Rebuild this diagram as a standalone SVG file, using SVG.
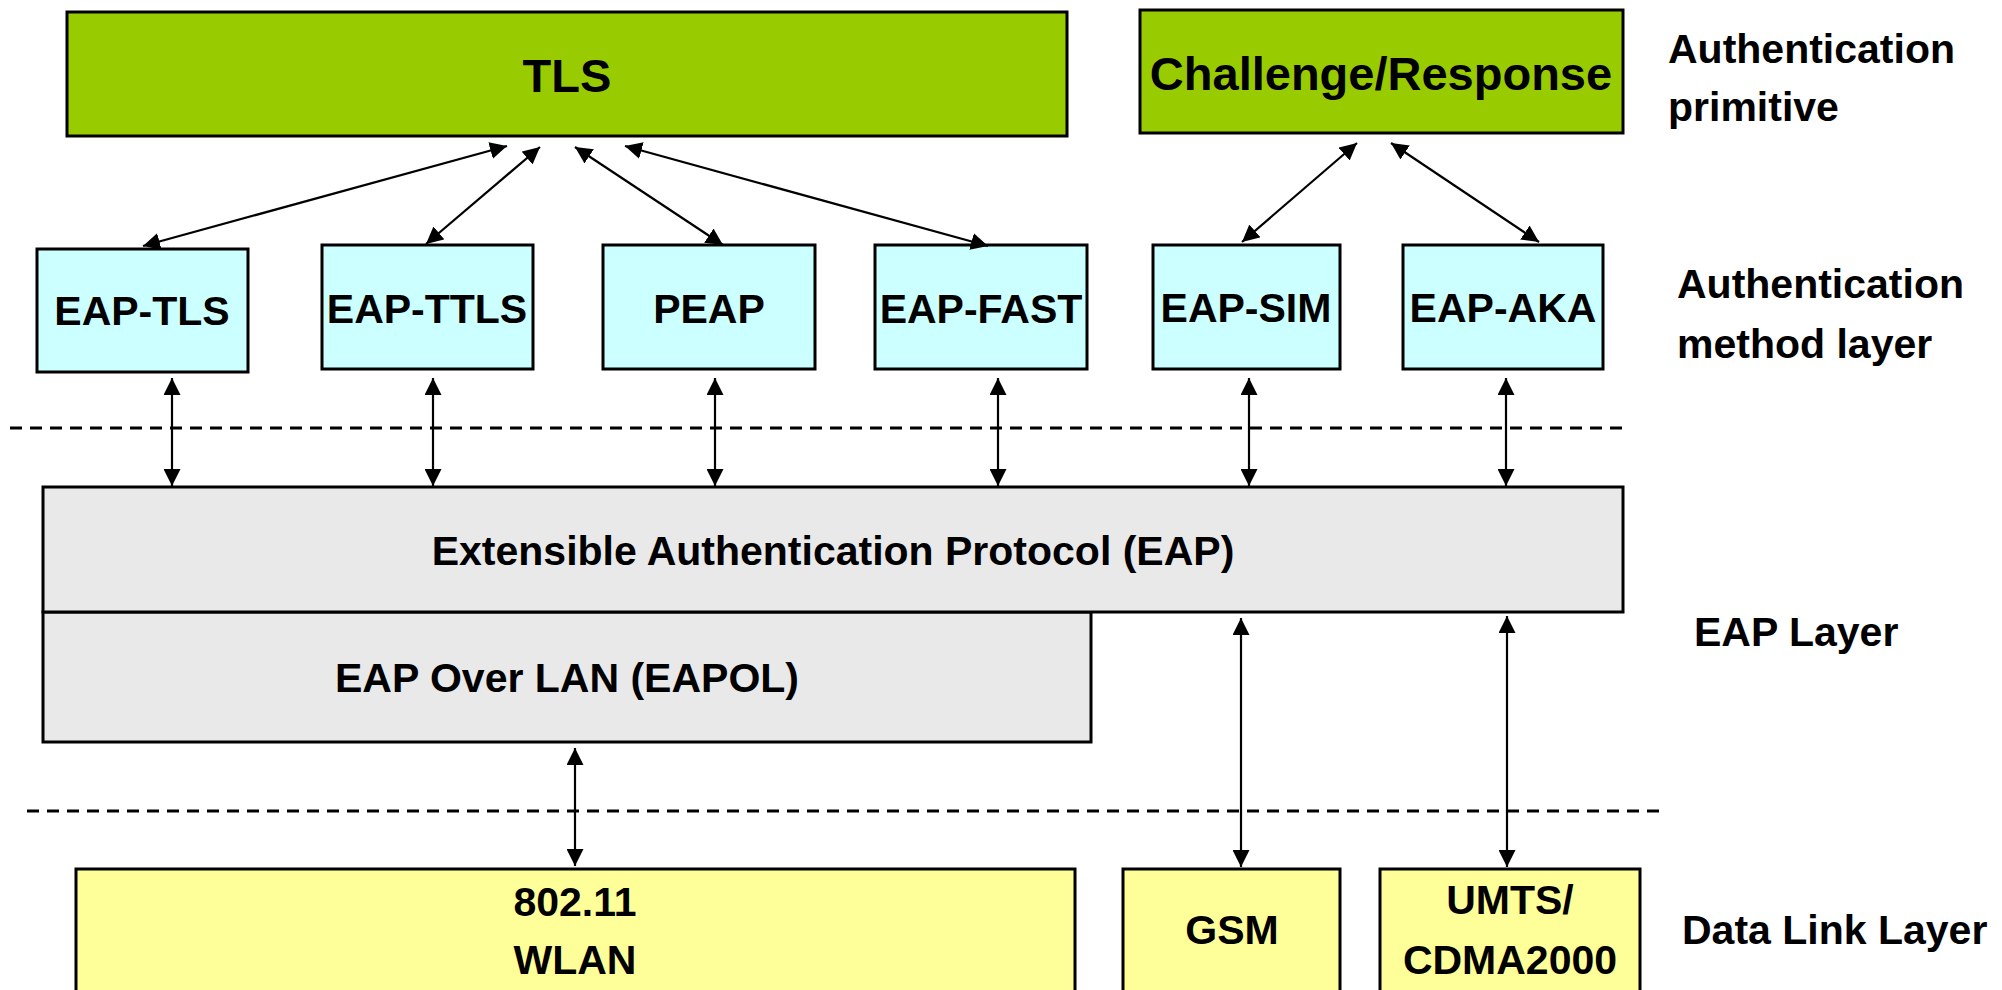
<svg xmlns="http://www.w3.org/2000/svg" width="2002" height="990" viewBox="0 0 2002 990">
  <defs>
    <marker id="arrow" viewBox="0 0 17 17" refX="17" refY="8.5" markerWidth="17" markerHeight="17" markerUnits="userSpaceOnUse" orient="auto-start-reverse">
      <path d="M0,0 L17,8.5 L0,17 Z" fill="#000"/>
    </marker>
    <style>
      .box { stroke: #000; stroke-width: 3; }
      .prim { fill: #99CC00; }
      .method { fill: #CCFFFF; }
      .eap { fill: #E9E9E9; }
      .link { fill: #FFFF99; }
      text { font-family: "Liberation Sans", Arial, sans-serif; font-weight: bold; fill: #000; }
      .c { text-anchor: middle; font-size: 41px; }
      .big { text-anchor: middle; font-size: 47px; }
      .lbl { font-size: 41px; }
      .conn line { stroke: #000; stroke-width: 2.2; marker-start: url(#arrow); marker-end: url(#arrow); }
      .sep { stroke: #000; stroke-width: 2.8; stroke-dasharray: 12 8; fill: none; }
    </style>
  </defs>
  <rect width="2002" height="990" fill="#fff"/>

  <!-- layer separators -->
  <line class="sep" x1="10" y1="428" x2="1624" y2="428"/>
  <line class="sep" x1="27" y1="811" x2="1660" y2="811"/>

  <!-- authentication primitives -->
  <g id="tls">
    <rect class="box prim" x="67" y="12" width="1000" height="124"/>
    <text class="big" x="567" y="92">TLS</text>
  </g>
  <g id="challenge-response">
    <rect class="box prim" x="1140" y="10" width="483" height="123"/>
    <text class="big" x="1381" y="90">Challenge/Response</text>
  </g>

  <!-- authentication methods -->
  <g id="eap-tls">
    <rect class="box method" x="37" y="249" width="211" height="123"/>
    <text class="c" x="142" y="325">EAP-TLS</text>
  </g>
  <g id="eap-ttls">
    <rect class="box method" x="322" y="245" width="211" height="124"/>
    <text class="c" x="427" y="323">EAP-TTLS</text>
  </g>
  <g id="peap">
    <rect class="box method" x="603" y="245" width="212" height="124"/>
    <text class="c" x="709" y="323">PEAP</text>
  </g>
  <g id="eap-fast">
    <rect class="box method" x="875" y="245" width="212" height="124"/>
    <text class="c" x="981" y="323">EAP-FAST</text>
  </g>
  <g id="eap-sim">
    <rect class="box method" x="1153" y="245" width="187" height="124"/>
    <text class="c" x="1246" y="322">EAP-SIM</text>
  </g>
  <g id="eap-aka">
    <rect class="box method" x="1403" y="245" width="200" height="124"/>
    <text class="c" x="1503" y="322">EAP-AKA</text>
  </g>

  <!-- EAP layer -->
  <g id="eapol">
    <rect class="box eap" x="43" y="612" width="1048" height="130"/>
    <text class="c" x="567" y="692">EAP Over LAN (EAPOL)</text>
  </g>
  <g id="eap">
    <rect class="box eap" x="43" y="487" width="1580" height="125"/>
    <text class="c" x="833" y="565">Extensible Authentication Protocol (EAP)</text>
  </g>

  <!-- data link layer -->
  <g id="wlan">
    <rect class="box link" x="76" y="869" width="999" height="140"/>
    <text class="c" x="575" y="916">802.11</text>
    <text class="c" x="575" y="974">WLAN</text>
  </g>
  <g id="gsm">
    <rect class="box link" x="1123" y="869" width="217" height="140"/>
    <text class="c" x="1232" y="944">GSM</text>
  </g>
  <g id="umts">
    <rect class="box link" x="1380" y="869" width="260" height="140"/>
    <text class="c" x="1510" y="914">UMTS/</text>
    <text class="c" x="1510" y="974">CDMA2000</text>
  </g>

  <!-- layer captions -->
  <g id="captions">
    <text class="lbl" x="1668" y="63">Authentication</text>
    <text class="lbl" x="1668" y="121">primitive</text>
    <text class="lbl" x="1677" y="298">Authentication</text>
    <text class="lbl" x="1677" y="358">method layer</text>
    <text class="lbl" x="1694" y="646">EAP Layer</text>
    <text class="lbl" x="1682" y="944">Data Link Layer</text>
  </g>

  <!-- connectors -->
  <g id="connectors" class="conn">
    <line x1="507" y1="146" x2="143" y2="246"/>
    <line x1="540" y1="147" x2="426" y2="244"/>
    <line x1="575" y1="147" x2="723" y2="245"/>
    <line x1="625" y1="146" x2="988" y2="246"/>
    <line x1="1357" y1="143" x2="1242" y2="242"/>
    <line x1="1391" y1="143" x2="1539" y2="242"/>

    <line x1="172" y1="378" x2="172" y2="486"/>
    <line x1="433" y1="378" x2="433" y2="486"/>
    <line x1="715" y1="378" x2="715" y2="486"/>
    <line x1="998" y1="378" x2="998" y2="486"/>
    <line x1="1249" y1="378" x2="1249" y2="486"/>
    <line x1="1506" y1="378" x2="1506" y2="486"/>

    <line x1="575" y1="748" x2="575" y2="866"/>
    <line x1="1241" y1="618" x2="1241" y2="867"/>
    <line x1="1507" y1="616" x2="1507" y2="867"/>
  </g>
</svg>
